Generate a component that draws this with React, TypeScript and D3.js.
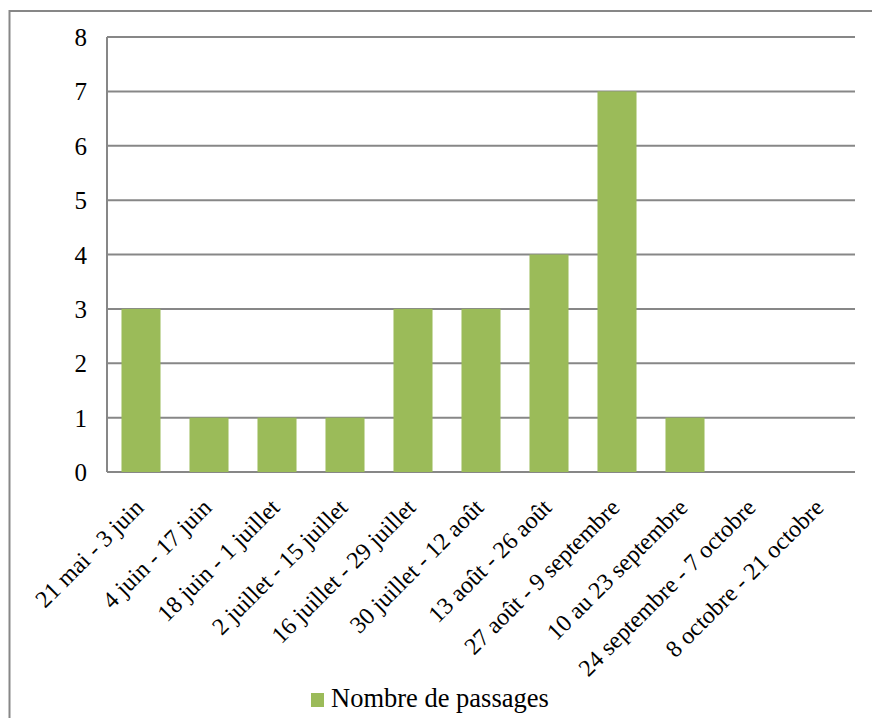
import { useEffect, useRef } from "react";
import * as d3 from "d3";

const categories = [
  "21 mai - 3 juin",
  "4 juin - 17 juin",
  "18 juin - 1 juillet",
  "2 juillet - 15 juillet",
  "16 juillet - 29 juillet",
  "30 juillet - 12 août",
  "13 août - 26 août",
  "27 août - 9 septembre",
  "10 au 23 septembre",
  "24 septembre - 7 octobre",
  "8 octobre - 21 octobre",
];
const passages = [3, 1, 1, 1, 3, 3, 4, 7, 1, 0, 0];
const yTicks = [0, 1, 2, 3, 4, 5, 6, 7, 8];
const seriesName = "Nombre de passages";

export default function App() {
  const svgRef = useRef<SVGSVGElement>(null);

  useEffect(() => {
    if (!svgRef.current) return;
    const root = d3.select(svgRef.current);
    root.selectAll("*").remove();

    const W = 872;
    const H = 718;
    const font = "'Liberation Serif', 'Times New Roman', serif";
    const grey = "#878787";
    const green = "#9BBB59";

    // Outer chart frame
    root
      .append("rect")
      .attr("x", 9.5)
      .attr("y", 11)
      .attr("width", W + 20)
      .attr("height", H + 20)
      .attr("fill", "white")
      .attr("stroke", grey)
      .attr("stroke-width", 2);

    const left = 107;
    const right = 855;
    const top = 37;
    const bottom = 472;

    const x = d3
      .scaleBand()
      .domain(categories)
      .range([left, right])
      .paddingInner(0.426)
      .paddingOuter(0.213);

    const y = d3.scaleLinear().domain([0, 8]).range([bottom, top]);

    // Gridlines
    root
      .append("g")
      .selectAll("line")
      .data(yTicks)
      .enter()
      .append("line")
      .attr("x1", left)
      .attr("x2", right)
      .attr("y1", (d) => y(d))
      .attr("y2", (d) => y(d))
      .attr("stroke", grey)
      .attr("stroke-width", 2);

    // Y axis line
    root
      .append("line")
      .attr("x1", left)
      .attr("x2", left)
      .attr("y1", top)
      .attr("y2", bottom)
      .attr("stroke", grey)
      .attr("stroke-width", 2);

    // Y tick labels
    root
      .append("g")
      .selectAll("text")
      .data(yTicks)
      .enter()
      .append("text")
      .attr("x", 87)
      .attr("y", (d) => y(d) + 9)
      .attr("text-anchor", "end")
      .attr("font-family", font)
      .attr("font-size", 25)
      .attr("fill", "black")
      .text((d) => String(d));

    // Bars
    root
      .append("g")
      .selectAll("rect")
      .data(passages)
      .enter()
      .append("rect")
      .attr("x", (_, i) => x(categories[i])!)
      .attr("y", (d) => y(d))
      .attr("width", x.bandwidth())
      .attr("height", (d) => bottom - y(d))
      .attr("fill", green);

    // X labels
    root
      .append("g")
      .selectAll("text")
      .data(categories)
      .enter()
      .append("text")
      .attr(
        "transform",
        (d) => `translate(${x(d)! + x.bandwidth() / 2 + 4},${bottom + 37}) rotate(-45)`
      )
      .attr("text-anchor", "end")
      .attr("font-family", font)
      .attr("font-size", 24)
      .attr("fill", "black")
      .text((d) => d);

    // Legend
    const legend = root.append("g");
    legend
      .append("rect")
      .attr("x", 311)
      .attr("y", 693)
      .attr("width", 13)
      .attr("height", 14)
      .attr("fill", green);
    legend
      .append("text")
      .attr("x", 331)
      .attr("y", 707)
      .attr("font-family", font)
      .attr("font-size", 26.5)
      .attr("fill", "black")
      .text(seriesName);
  }, []);

  return (
    <div style={{ position: "fixed", left: 0, top: 0 }}>
      <svg ref={svgRef} width={872} height={718} style={{ display: "block" }} />
    </div>
  );
}
